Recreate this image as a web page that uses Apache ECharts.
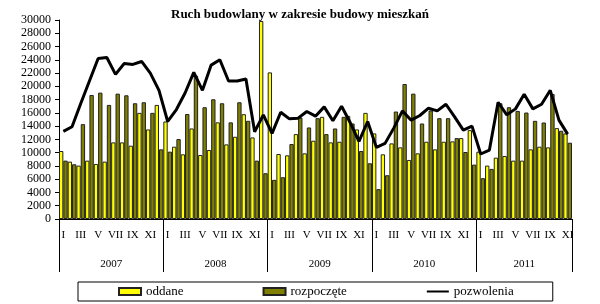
<!DOCTYPE html>
<html>
<head>
<meta charset="utf-8">
<script src="https://cdn.jsdelivr.net/npm/echarts@6/dist/echarts.min.js"></script>
<style>html,body{margin:0;padding:0;background:#fff}#c{width:600px;height:304px}</style>
</head>
<body>
<div id="c"></div>
<script>
var years = ['2007', '2008', '2009', '2010', '2011'];
var monthsPerYear = [12, 12, 12, 12, 11];
var months = ['I', 'II', 'III', 'IV', 'V', 'VI', 'VII', 'VIII', 'IX', 'X', 'XI', 'XII'];

var oddane = [
  10250, 8650, 8050, 8800, 8300, 8650, 11550, 11550, 11050, 16000, 13500, 17200,
  14700, 10900, 9750, 13650, 9650, 10400, 14570, 11250, 12400, 15800, 12300, 29850,
  22100, 9800, 9600, 12800, 9900, 11800, 15400, 11550, 11650, 15550, 13500, 16000,
  12900, 9750, 11400, 10800, 8900, 9900, 11650, 10500, 11650, 11700, 12200, 13400,
  10150, 8050, 9250, 9500, 8800, 8800, 10500, 10900, 10800, 13700, 12900
];
var rozpoczete = [
  8800, 8250, 14300, 18700, 19050, 17200, 18900, 18650, 17450, 17600, 16000, 10500,
  10150, 12050, 15830, 21600, 16850, 18050, 17450, 14570, 17600, 14800, 8800, 6900,
  5900, 6300, 11300, 15300, 13800, 15200, 12800, 13650, 15400, 14400, 10250, 8400,
  4500, 6600, 16200, 20350, 18900, 14400, 16350, 15200, 15200, 12200, 10100, 8200,
  6150, 7550, 17450, 16850, 16300, 16050, 14800, 14550, 18850, 13300, 11500
];
var pozwolenia = [
  13200, 13900, 17400, 20800, 24200, 24350, 21800, 23450, 23300, 23750, 22000, 19400,
  14700, 16500, 19000, 22100, 19400, 23200, 24000, 20800, 20800, 21100, 13150, 15700,
  12900, 16100, 15100, 15200, 16200, 15500, 16900, 14800, 17000, 14500, 11700, 14700,
  10800, 11400, 13700, 16300, 14900, 15600, 16700, 16300, 17300, 15400, 13400, 14000,
  9800, 10400, 17600, 15700, 16600, 18800, 16600, 17300, 19400, 14900, 12800
];

var categories = [];
var yearStart = [];
years.forEach(function (y, yi) {
  yearStart.push(categories.length);
  for (var m = 0; m < monthsPerYear[yi]; m++) categories.push(y + '|' + months[m]);
});

var serif = 'Liberation Serif';
var chart = echarts.init(document.getElementById('c'), null, {renderer: 'canvas'});
chart.setOption({
  animation: false,
  backgroundColor: '#fff',
  title: {
    text: 'Ruch budowlany w zakresie budowy mieszkań',
    left: 'center', top: 3,
    textStyle: {fontFamily: serif, fontSize: 13, fontWeight: 'bold', color: '#000'}
  },
  legend: {
    left: 78, top: 282,
    padding: [3, 39, 3, 40],
    itemGap: 79,
    itemWidth: 22, itemHeight: 7,
    borderColor: '#000', borderWidth: 1,
    textStyle: {fontFamily: serif, fontSize: 13, color: '#000'},
    data: [
      {name: 'oddane', icon: 'rect'},
      {name: 'rozpoczęte', icon: 'rect'},
      {name: 'pozwolenia', itemStyle: {opacity: 0}}
    ]
  },
  grid: {left: 59, right: 28, top: 20, bottom: 85, containLabel: false},
  xAxis: [{
    type: 'category',
    data: categories,
    boundaryGap: true,
    axisLine: {lineStyle: {color: '#000', width: 1}},
    axisTick: {
      show: true, length: 53,
      interval: function (i) { return yearStart.indexOf(i) >= 0; },
      lineStyle: {color: '#000', width: 1}
    },
    axisLabel: {
      interval: 1, margin: 11,
      fontFamily: serif, fontSize: 11, color: '#000',
      formatter: function (v) { return v.split('|')[1]; }
    },
    splitLine: {show: false}
  }, {
    type: 'category',
    data: categories,
    position: 'bottom',
    boundaryGap: true,
    axisLine: {show: false},
    axisTick: {show: false},
    axisLabel: {
      margin: 40,
      fontFamily: serif, fontSize: 11, color: '#000',
      interval: function (i) {
        for (var k = 0; k < yearStart.length; k++) {
          var c = yearStart[k] + Math.floor((monthsPerYear[k] - 1) / 2);
          if (i === c) return true;
        }
        return false;
      },
      formatter: function (v) {
        var y = v.split('|')[0];
        var k = years.indexOf(y);
        return monthsPerYear[k] % 2 === 0 ? '{s|' + y + '}' : '{n|' + y + '}';
      },
      rich: {
        s: {padding: [0, 0, 0, 8.7], fontFamily: serif, fontSize: 11, color: '#000'},
        n: {fontFamily: serif, fontSize: 11, color: '#000'}
      }
    },
    splitLine: {show: false}
  }],
  yAxis: {
    type: 'value', min: 0, max: 30000, interval: 2000,
    axisLine: {show: true, lineStyle: {color: '#000', width: 1}},
    axisTick: {show: true, length: 4, lineStyle: {color: '#000'}},
    axisLabel: {
      fontFamily: serif, fontSize: 12, color: '#000', margin: 8,
      formatter: function (v) { return String(v); }
    },
    splitLine: {show: false}
  },
  series: [{
    name: 'oddane', type: 'bar', data: oddane,
    barGap: '0%', barCategoryGap: '0%',
    itemStyle: {color: '#ffff00', borderColor: '#222', borderWidth: 1}
  }, {
    name: 'rozpoczęte', type: 'bar', data: rozpoczete,
    barGap: '0%', barCategoryGap: '0%',
    itemStyle: {color: '#808000', borderColor: '#222', borderWidth: 1}
  }, {
    name: 'pozwolenia', type: 'line', data: pozwolenia,
    symbol: 'none', z: 5,
    lineStyle: {color: '#000', width: 3},
    itemStyle: {color: '#000'}
  }]
});
</script>
</body>
</html>
